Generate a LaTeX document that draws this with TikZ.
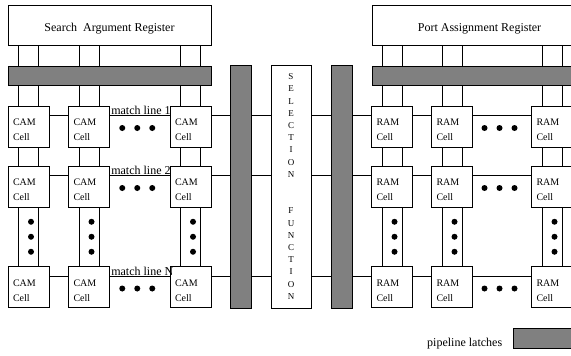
\documentclass[tikz,border=0pt]{standalone}
\usepackage{fontspec}
\setmainfont{Liberation Serif}
\usetikzlibrary{calc,positioning}

\definecolor{latchgray}{RGB}{128,128,128}
\tikzset{
  reg/.style={draw, fill=white, minimum height=40pt, inner sep=0pt, text height=14pt, text depth=2pt, font=\fontsize{12}{14}\selectfont},
  latch/.style={draw, fill=latchgray, inner sep=0pt},
  cell/.style={draw, fill=white, minimum size=41pt, inner sep=0pt, label={[celltext]north west:#1}},
  celltext/.style={anchor=north west, align=left, inner sep=0pt, xshift=5pt, yshift=-13pt, font=\fontsize{10}{15}\selectfont},
  mlabel/.style={anchor=base west, inner sep=1pt, font=\fontsize{12}{14}\selectfont},
  ldot/.style={fill=black}
}

\begin{document}
\begin{tikzpicture}[x=1pt, y=-1pt, line width=0.8pt]
\useasboundingbox (0,0) rectangle (571,356);
\clip (0,0) rectangle (571,356);
% registers
\node[reg, minimum width=203pt] (sar) at (109.5,25) {Search~~Argument Register};
\node[reg, minimum width=215pt] (par) at (479.5,25) {Port Assignment Register};
% CAM and RAM cells
\foreach \r/\y in {1/126.5,2/186.5,3/287} {
  \foreach \c/\x in {1/28.5,2/89,3/190.5}
    \node[cell={CAM\\Cell}] (c\r\c) at (\x,\y) {};
  \foreach \c/\x in {1/392,2/452,3/552}
    \node[cell={RAM\\Cell}] (r\r\c) at (\x,\y) {};
}
% bit lines
\foreach \c in {1,2,3}
  \foreach \s in {-10,10} {
    \draw ([xshift=\s pt]c1\c.north) -- ([xshift=\s pt]c1\c.north |- sar.south);
    \draw ([xshift=\s pt]c1\c.south) -- ([xshift=\s pt]c2\c.north);
    \draw ([xshift=\s pt]c2\c.south) -- ([xshift=\s pt]c3\c.north);
    \draw ([xshift=\s pt]r1\c.north) -- ([xshift=\s pt]r1\c.north |- par.south);
    \draw ([xshift=\s pt]r1\c.south) -- ([xshift=\s pt]r2\c.north);
    \draw ([xshift=\s pt]r2\c.south) -- ([xshift=\s pt]r3\c.north);
  }
% match lines
\foreach \r in {1,2,3} {
  \draw ([yshift=-10pt]c\r1.north east) -- ([yshift=-10pt]c\r2.north west)
        ([yshift=-10pt]c\r2.north east) -- ([yshift=-10pt]c\r3.north west)
        ([yshift=-10pt]c\r3.north east) -- ([yshift=-10pt]r\r1.north west)
        ([yshift=-10pt]r\r1.north east) -- ([yshift=-10pt]r\r2.north west)
        ([yshift=-10pt]r\r2.north east) -- ([yshift=-10pt]r\r3.north west);
}
\foreach \r/\t in {1/1,2/2,3/N}
  \node[mlabel] (ml\r) at ([yshift=-9pt]c\r2.north east) {match line \t};
% dots
\foreach \r in {1,2,3}
  \foreach \d in {-15,0,15} {
    \fill[ldot] ($(c\r2.east)!0.5!(c\r3.west) + (\d-2.5,1.5)$) circle (3pt);
    \fill[ldot] ($(r\r2.east)!0.5!(r\r3.west) + (\d-2.5,1.5)$) circle (3pt);
  }
\foreach \c in {1,2,3}
  \foreach \d in {-15,0,15} {
    \fill[ldot] ($(c2\c.south)!0.5!(c3\c.north) + (2.5,\d)$) circle (3pt);
    \fill[ldot] ($(r2\c.south)!0.5!(r3\c.north) + (2.5,\d)$) circle (3pt);
  }
% pipeline latches and selection
\node[latch, minimum width=203pt, minimum height=19pt] (barL) at (109.5,75.5) {};
\node[latch, minimum width=215pt, minimum height=19pt] (barR) at (479.5,75.5) {};
\node[latch, minimum width=21pt, minimum height=243pt] (latL) at (240.5,186.5) {};
\node[latch, minimum width=21pt, minimum height=243pt] (latR) at (341.5,186.5) {};
\node[draw, fill=white, minimum width=40pt, minimum height=243pt, inner sep=0pt, align=center, font=\fontsize{9}{12.2}\selectfont] (sel) at (291,186.5)
  {S\\E\\L\\E\\C\\T\\I\\O\\N\\[24.4pt]F\\U\\N\\C\\T\\I\\O\\N};
% legend
\node[latch, minimum width=77pt, minimum height=20pt] (legbox) at (551.5,338) {};
\node[anchor=base east, inner sep=0pt, font=\fontsize{12}{14}\selectfont] (leg) at ([xshift=-10pt, yshift=-8pt]legbox.west) {pipeline latches};
\end{tikzpicture}
\end{document}
